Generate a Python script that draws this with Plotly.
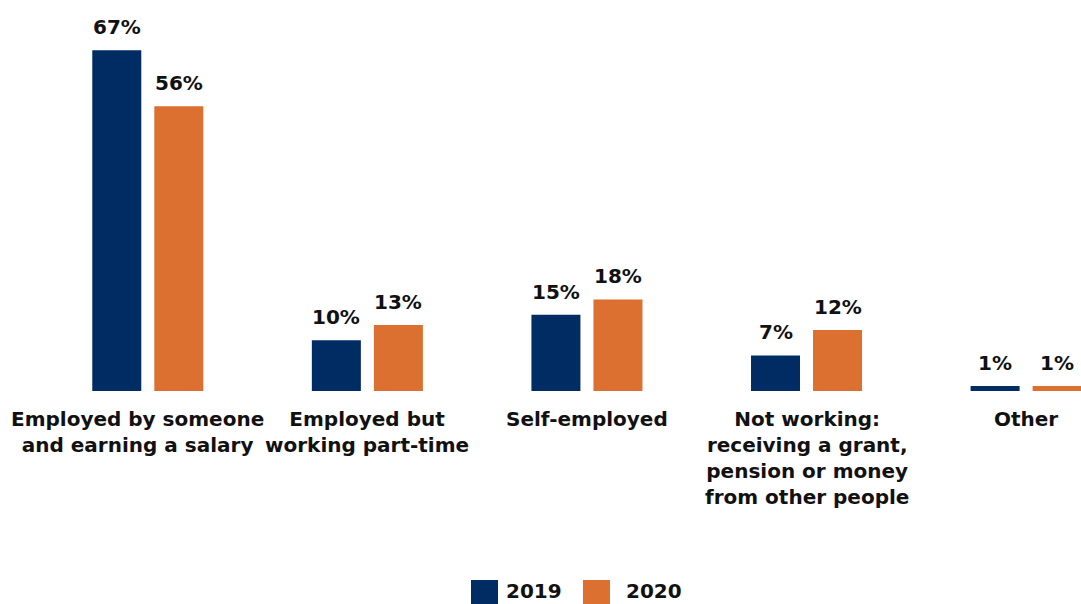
import plotly.graph_objects as go

# Employment status by survey year (percent of respondents)
categories = [
    "Employed by someone<br>and earning a salary",
    "Employed but<br>working part-time",
    "Self-employed",
    "Not working:<br>receiving a grant,<br>pension or money<br>from other people",
    "Other",
]
years = ["2019", "2020"]
values_2019 = [67, 10, 15, 7, 1]
values_2020 = [56, 13, 18, 12, 1]
colors = {"2019": "#002C64", "2020": "#DC7030"}

FONT = "DejaVu Sans"
TEXT_COLOR = "#111111"

W, H = 1081, 604
M_L, M_R, M_T, M_B = 38, 0, 35, 213
plot_w = W - M_L - M_R
plot_h = H - M_T - M_B

fig = go.Figure()
series = {"2019": values_2019, "2020": values_2020}
idx = list(range(len(categories)))
for yr in years:
    fig.add_trace(go.Bar(
        x=idx, y=series[yr], name=yr,
        marker=dict(color=colors[yr], line=dict(width=0)),
        showlegend=False,
    ))

bargap = 0.435
bargroupgap = 0.21
slot = (1 - bargap) / 2  # width of one bar slot in category units

annotations = []
# value labels above each bar
for k, yr in enumerate(years):
    off = (k - 0.5) * slot
    for i, v in enumerate(series[yr]):
        annotations.append(dict(
            x=i + off, y=v, xref="x", yref="y", text=f"{v}%",
            showarrow=False, yanchor="bottom", yshift=9,
            font=dict(family=FONT, size=20, color=TEXT_COLOR, weight="bold"),
        ))

# category labels under the groups
for i, c in enumerate(categories):
    annotations.append(dict(
        x=i, y=0, xref="x", yref="y", text=c, showarrow=False,
        yanchor="top", yshift=-14, xshift=-10 if i == 0 else 0, align="center",
        font=dict(family=FONT, size=20, color=TEXT_COLOR, weight="bold"),
    ))

# legend drawn as swatches with text
def px_to_paper_x(px):
    return (px - M_L) / plot_w

def px_to_paper_y(py):
    return (H - M_B - py) / plot_h

shapes = []
legend_items = [("2019", 471, 504), ("2020", 583, 624)]
for yr, sx, tx in legend_items:
    shapes.append(dict(
        type="rect", xref="paper", yref="paper",
        x0=px_to_paper_x(sx), x1=px_to_paper_x(sx + 27),
        y0=px_to_paper_y(607), y1=px_to_paper_y(580),
        fillcolor=colors[yr], line=dict(width=0),
    ))
    annotations.append(dict(
        x=px_to_paper_x(tx), y=px_to_paper_y(604), xref="paper", yref="paper",
        text=yr, showarrow=False, xanchor="left", yanchor="bottom",
        height=22, valign="middle",
        font=dict(family=FONT, size=20, color=TEXT_COLOR, weight="bold"),
    ))

fig.update_layout(
    width=W, height=H,
    margin=dict(l=M_L, r=M_R, t=M_T, b=M_B, pad=0),
    plot_bgcolor="white", paper_bgcolor="white",
    barmode="group", bargap=bargap, bargroupgap=bargroupgap,
    xaxis=dict(range=[-0.5, 4.25], showticklabels=False, showgrid=False,
               zeroline=False, showline=False, ticks=""),
    yaxis=dict(range=[0, 70], visible=False, showgrid=False, zeroline=False),
    annotations=annotations, shapes=shapes,
    font=dict(family=FONT, color=TEXT_COLOR),
)

fig.write_html("out.html")
